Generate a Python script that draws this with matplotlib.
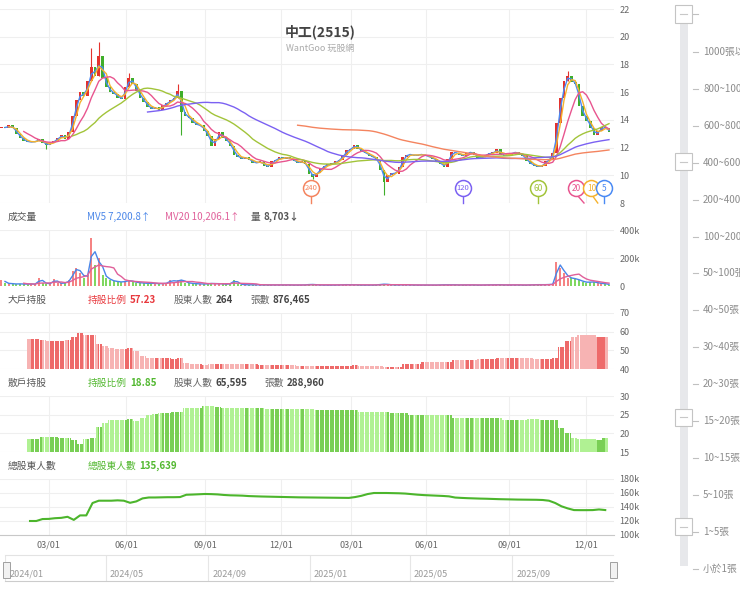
import numpy as np
import pandas as pd
import matplotlib
matplotlib.use('Agg')
import matplotlib.pyplot as plt
import matplotlib.dates as mdates
from matplotlib.patches import Rectangle
from matplotlib.colors import LinearSegmentedColormap
import datetime as dt

plt.rcParams['font.family'] = ['Noto Sans CJK TC', 'DejaVu Sans']

# ---------------- data ----------------
# closing prices, one sample every 3 trading days (2024/01 .. 2025/12)
close = [
    13.5, 13.4, 13.6, 13.4, 13.0, 12.7, 12.5, 12.4, 12.4, 12.45,
    12.6, 12.3, 12.2, 12.3, 12.5, 12.7, 12.9, 12.6, 13.1, 14.3,
    15.4, 16.0, 15.7, 16.8, 17.8, 17.2, 18.6, 17.0, 16.4, 16.0,
    15.9, 15.6, 15.5, 16.4, 17.0, 16.6, 16.1, 15.6, 15.3, 14.9,
    14.8, 14.9, 14.7, 15.1, 15.2, 15.4, 15.6, 16.1, 14.6, 14.3,
    14.1, 13.8, 13.6, 13.6, 13.2, 12.8, 12.1, 12.6, 13.1, 12.7,
    12.5, 12.1, 11.5, 11.3, 11.2, 11.3, 11.1, 10.9, 10.9, 11.0,
    10.7, 10.6, 11.0, 11.1, 11.3, 11.2, 11.3, 11.2, 11.0, 10.9,
    11.0, 10.8, 10.1, 9.9, 10.2, 10.5, 10.7, 10.8, 10.8, 11.0,
    11.1, 11.5, 11.8, 11.9, 12.2, 11.9, 11.7, 11.6, 11.4, 11.3,
    11.1, 10.4, 9.5, 10.0, 10.2, 10.1, 10.6, 11.3, 11.5, 11.5,
    11.4, 11.5, 11.5, 11.4, 11.3, 11.2, 11.0, 10.8, 10.6, 11.2,
    11.7, 11.6, 11.5, 11.4, 11.6, 11.7, 11.5, 11.2, 11.3, 11.5,
    11.6, 11.6, 11.9, 11.5, 11.4, 11.5, 11.6, 11.7, 11.5, 11.4,
    11.0, 10.8, 10.7, 10.6, 10.7, 11.0, 11.2, 11.6, 13.8, 15.6,
    16.8, 17.2, 16.7, 16.6, 15.0, 14.3, 13.9, 13.4, 12.9, 13.2,
    13.5, 13.4, 13.1,
]
first_open = 13.4
wick_high = {24: 19.2, 26: 19.6, 47: 16.6, 34: 17.4, 151: 17.5}
wick_low = {12: 11.9, 48: 12.9, 102: 8.6, 83: 9.7}

# volume (thousand shares), same sampling as close
volume = [
    45, 20, 18, 15, 14, 16, 12, 15, 14, 12,
    55, 25, 15, 18, 50, 20, 18, 25, 40, 105,
    130, 90, 60, 80, 340, 150, 200, 80, 60, 40,
    35, 30, 28, 35, 40, 30, 25, 22, 20, 18,
    20, 18, 16, 18, 20, 45, 30, 40, 45, 25,
    20, 18, 15, 15, 14, 16, 20, 15, 18, 14,
    12, 20, 45, 15, 10, 9, 8, 9, 8, 7,
    8, 7, 8, 7, 9, 7, 8, 7, 6, 7,
    7, 8, 12, 10, 8, 7, 6, 7, 6, 7,
    8, 9, 10, 8, 9, 7, 6, 7, 6, 7,
    8, 12, 14, 10, 8, 7, 8, 9, 8, 7,
    7, 6, 7, 6, 7, 6, 7, 8, 9, 8,
    9, 8, 7, 8, 7, 8, 7, 6, 7, 8,
    8, 9, 10, 8, 7, 8, 7, 8, 7, 6,
    7, 8, 9, 10, 9, 10, 11, 14, 170, 130,
    90, 60, 55, 50, 40, 30, 25, 30, 28, 20,
    18, 15, 9,
]

# weekly shareholder data
big_holder = [
    56.2, 56.2, 55.8, 54.9, 54.9, 54.9, 55.8, 57.0, 59.5, 58.0,
    58.0, 53.6, 52.2, 51.0, 50.9, 50.7, 51.0, 49.5, 47.0, 45.9,
    45.8, 45.8, 45.8, 45.6, 45.9, 43.0, 42.5, 42.6, 42.4, 42.5,
    42.6, 42.5, 42.9, 42.9, 42.8, 42.5, 42.5, 42.4, 42.3, 42.3,
    42.2, 42.3, 42.3, 41.8, 41.8, 41.7, 41.8, 41.8, 41.8, 41.7,
    41.8, 41.8, 42.3, 41.6, 41.6, 41.5, 41.6, 41.3, 41.3, 41.2,
    42.5, 42.5, 42.6, 43.5, 43.5, 43.6, 43.5, 43.5, 44.7, 44.7,
    44.8, 44.7, 45.3, 45.3, 45.4, 46.0, 46.0, 46.1, 46.0, 46.0,
    46.0, 45.5, 45.5, 45.5, 46.0, 52.0, 55.0, 57.0, 58.0, 58.0,
    58.1, 57.2, 57.23,
]
small_holder = [
    18.5, 18.5, 19.1, 19.1, 19.0, 18.8, 18.8, 18.2, 17.2, 18.6,
    18.7, 21.8, 22.9, 23.5, 23.5, 23.6, 23.8, 23.4, 24.0, 24.8,
    25.2, 25.5, 25.5, 25.6, 25.6, 26.8, 26.8, 26.9, 27.2, 27.2,
    27.1, 26.9, 26.9, 26.9, 26.8, 26.8, 26.8, 26.8, 26.6, 26.6,
    26.6, 26.6, 26.6, 26.6, 26.6, 26.6, 26.2, 26.2, 26.2, 26.2,
    26.2, 26.2, 26.2, 25.8, 25.8, 25.8, 25.8, 25.8, 25.5, 25.5,
    25.5, 25.0, 25.0, 25.0, 25.0, 25.0, 25.0, 25.0, 24.2, 24.2,
    24.2, 24.2, 24.2, 24.2, 24.2, 24.2, 23.7, 23.7, 23.7, 23.7,
    23.8, 23.8, 23.5, 23.5, 23.5, 21.3, 20.2, 18.8, 18.4, 18.4,
    18.4, 18.2, 18.85,
]
total_holders = [
    120.0, 120.0, 122.8, 123.0, 124.0, 124.5, 126.0, 121.6, 128.0, 128.0,
    145.7, 149.0, 149.0, 149.0, 149.5, 149.0, 146.0, 148.0, 152.3, 153.6,
    153.6, 153.8, 154.0, 154.0, 154.2, 157.5, 157.8, 158.2, 158.6, 158.4,
    158.0, 157.2, 156.7, 156.5, 156.2, 155.6, 155.3, 155.0, 154.8, 154.6,
    154.4, 154.2, 154.0, 153.8, 153.7, 153.6, 153.5, 153.4, 153.3, 153.2,
    153.1, 153.0, 154.2, 156.0, 158.5, 160.0, 160.0, 160.0, 159.8, 159.6,
    159.2, 158.4, 157.6, 157.0, 156.6, 156.2, 155.8, 155.2, 153.5, 153.0,
    152.6, 152.3, 152.0, 151.8, 151.5, 151.2, 151.0, 150.8, 150.6, 150.5,
    150.4, 150.3, 150.0, 149.0, 145.7, 141.0, 138.0, 135.6, 135.5, 135.5,
    135.6, 136.5, 135.639,
]

ma_windows = {5: 2, 10: 3, 20: 7, 60: 20, 120: 40, 240: 80}   # in samples of 3 days
ma_colors = {5: '#4a8af4', 10: '#f5b22e', 20: '#e8558f', 60: '#a2c43a',
             120: '#7b61f2', 240: '#f4845f'}
badges = [(240, 249, 0), (120, 370, 0), (60, 430, 0), (20, 461, 6), (10, 473, 5), (5, 483, 0)]

tick_days = [39, 101, 164, 225, 281, 341, 407, 469]
tick_labels = ['03/01', '06/01', '09/01', '12/01', '03/01', '06/01', '09/01', '12/01']
nav_months = ['2024/01', '2024/05', '2024/09', '2025/01', '2025/05', '2025/09']
slider_labels = ['1000張以上', '800~1000張', '600~800張', '400~600張', '200~400張',
                 '100~200張', '50~100張', '40~50張', '30~40張', '20~30張', '15~20張',
                 '10~15張', '5~10張', '1~5張', '小於1張']

STEP = 3
WEEK = 5
FIRST_WEEK = 24
X_MAX = 491

# ---------------- figure ----------------
W, H = 740, 592
fig = plt.figure(figsize=(W / 100, H / 100), dpi=100)
fig.patch.set_facecolor('white')


def px_axes(l, t, r, b):
    return fig.add_axes([l / W, 1 - b / H, (r - l) / W, (b - t) / H])


def fx(x):
    return x / W


def fy(y):
    return 1 - y / H


GRID = '#efefef'
TXT = '#666666'


def style(ax, ylim, yticks, ylabels):
    ax.set_xlim(0, X_MAX)
    ax.set_ylim(*ylim)
    ax.set_yticks(yticks)
    ax.set_yticklabels(ylabels)
    ax.yaxis.tick_right()
    ax.tick_params(axis='y', length=0, pad=4, labelsize=6.5, labelcolor=TXT)
    ax.set_xticks(tick_days)
    ax.tick_params(axis='x', length=0, labelbottom=False)
    for s in ax.spines.values():
        s.set_visible(False)
    ax.grid(True, color=GRID, lw=0.8)
    ax.set_axisbelow(True)
    ax.set_facecolor('none')


n = len(close)
xp = 1 + STEP * np.arange(n)
c = np.array(close)
o = np.concatenate([[first_open], c[:-1]])
up = c >= o

# price panel
ax = px_axes(0, 9, 614, 203)
style(ax, (8, 22), np.arange(8, 23, 2), [str(v) for v in range(8, 23, 2)])
cols = np.where(up, '#e5322d', '#3fae2a')
for i, x in enumerate(xp):
    if i in wick_high or i in wick_low:
        hi = wick_high.get(i, max(o[i], c[i]))
        lo = wick_low.get(i, min(o[i], c[i]))
        ax.vlines(x, lo, hi, color=cols[i], lw=0.8, zorder=3)
body = np.where(np.abs(c - o) < 0.06, 0.06, np.abs(c - o))
ax.bar(xp, body, bottom=np.minimum(o, c), width=2.1, color=cols, zorder=3, lw=0)
s = pd.Series(c)
for k, w in ma_windows.items():
    ax.plot(xp, s.rolling(w).mean(), color=ma_colors[k], lw=1.0, zorder=4)
for k, x, dx in badges:
    col = ma_colors[k]
    ax.plot([x + dx * 0.2, x + dx], [8.5, 8.0], color=col, lw=1.0, zorder=5, clip_on=False)
    ax.plot(x, 9.05, 'o', ms=11.5, mfc='white', mec=col, mew=1.1, zorder=6, clip_on=False)
    ax.text(x, 9.05, str(k), color=col, fontsize=6 if k < 100 else 5.5,
            ha='center', va='center', zorder=7)

fig.text(fx(320), fy(32), '中工(2515)', ha='center', va='center', fontsize=10,
         color='#444444', weight='bold')
fig.text(fx(320), fy(48), 'WantGoo 玩股網', ha='center', va='center', fontsize=6.5,
         color='#aaaaaa')

# volume panel
axv = px_axes(0, 230, 614, 286)
style(axv, (0, 400), [0, 200, 400], ['0', '200k', '400k'])
vcols = np.where(up, '#f58383', '#7fd860')
axv.bar(xp, volume, width=1.6, color=vcols, lw=0, zorder=3)
vs = pd.Series(volume, dtype=float)
axv.plot(xp, vs.rolling(2).mean(), color='#4a86e8', lw=1.0, zorder=4)
axv.plot(xp, vs.rolling(7).mean(), color='#e0609a', lw=1.0, zorder=4)

# weekly values drawn as thin daily stripes (each week repeated over its 5 days)
xw = FIRST_WEEK + WEEK * np.arange(len(big_holder))
day_x = (xw[:, None] + np.arange(-2, 3)[None, :]).ravel()
day_up = up[np.clip(((day_x - 1) // STEP).astype(int), 0, n - 1)]


def stripes(vals):
    return np.repeat(np.array(vals, dtype=float), WEEK)


# big holders
axb = px_axes(0, 313, 614, 369)
style(axb, (40, 70), [40, 50, 60, 70], ['40', '50', '60', '70'])
axb.bar(day_x, stripes(big_holder), width=0.82,
        color=np.where(day_up, '#ee6a6a', '#f7b3b3'), lw=0, zorder=3)

# small holders
axs = px_axes(0, 396, 614, 452)
style(axs, (15, 30), [15, 20, 25, 30], ['15', '20', '25', '30'])
axs.bar(day_x, stripes(small_holder), width=0.82,
        color=np.where(day_up, '#79cf55', '#b0f193'), lw=0, zorder=3)

# total holders
axt = px_axes(0, 479, 614, 535)
style(axt, (100, 180), [100, 120, 140, 160, 180], ['100k', '120k', '140k', '160k', '180k'])
axt.plot(xw, total_holders, color='#4cb52c', lw=1.5, zorder=4)
axt.set_xticklabels(tick_labels)
axt.tick_params(axis='x', labelbottom=True, labelsize=6.5, labelcolor=TXT, pad=4)
axt.spines['bottom'].set_visible(True)
axt.spines['bottom'].set_color('#c8c8c8')

# headers
renderer = fig.canvas.get_renderer()


def two_part(x, y, a, b, ca, cb, fs=7):
    t = fig.text(fx(x), fy(y), a, color=ca, fontsize=fs, va='center')
    bb = t.get_window_extent(renderer=renderer)
    fig.text((bb.x1 + 3) / W, fy(y), b, color=cb, fontsize=fs, va='center', weight='bold')


HDR = '#555555'
fig.text(fx(8), fy(217), '成交量', color=HDR, fontsize=7, va='center')
fig.text(fx(87), fy(217), 'MV5 7,200.8↑', color='#4a86e8', fontsize=7, va='center')
fig.text(fx(165), fy(217), 'MV20 10,206.1↑', color='#e0609a', fontsize=7, va='center')
two_part(251, 217, '量', '8,703↓', HDR, '#555555')

fig.text(fx(8), fy(300), '大戶持股', color=HDR, fontsize=7, va='center')
two_part(88, 300, '持股比例', '57.23', '#e8383d', '#e8383d')
two_part(174, 300, '股東人數', '264', TXT, '#444444')
two_part(250, 300, '張數', '876,465', TXT, '#444444')

fig.text(fx(8), fy(383), '散戶持股', color=HDR, fontsize=7, va='center')
two_part(88, 383, '持股比例', '18.85', '#52b830', '#52b830')
two_part(174, 383, '股東人數', '65,595', TXT, '#444444')
two_part(264, 383, '張數', '288,960', TXT, '#444444')

fig.text(fx(8), fy(466), '總股東人數', color=HDR, fontsize=7, va='center')
two_part(88, 466, '總股東人數', '135,639', '#52b830', '#52b830')

# navigator
axn = px_axes(5, 555, 613, 581)
d0, d1 = dt.date(2024, 1, 1), dt.date(2025, 12, 31)
axn.set_xlim(mdates.date2num(d0), mdates.date2num(d1))
axn.set_ylim(0, 1)
axn.set_xticks([])
axn.set_yticks([])
for sname, s_ in axn.spines.items():
    s_.set_visible(sname in ('top', 'bottom'))
axn.spines['top'].set_color('#e3e3e3')
axn.spines['bottom'].set_color('#cccccc')
for lab in nav_months:
    yy, mm = map(int, lab.split('/'))
    xd = mdates.date2num(dt.date(yy, mm, 1))
    axn.axvline(xd, color='#e6e6e6', lw=0.8)
    axn.annotate(lab, (xd, 0.27), xytext=(3, 0), textcoords='offset points',
                 fontsize=6.5, color='#999999', va='center', ha='left')
for hx in (6, 613):
    fig.patches.append(Rectangle((fx(hx - 3.5), fy(578)), 7 / W, 16 / H,
                                 transform=fig.transFigure, facecolor='#f2f2f2',
                                 edgecolor='#a0a0a0', lw=0.7, zorder=5))
    for gx in (-1, 1):
        fig.lines.append(plt.Line2D([fx(hx + gx), fx(hx + gx)], [fy(566), fy(574)],
                                    transform=fig.transFigure, color='#999999', lw=0.6))

# right slider legend
fig.patches.append(Rectangle((fx(679.5), fy(566)), 8 / W, 556 / H, transform=fig.transFigure,
                             facecolor='#e7e8eb', edgecolor='none'))
grad = np.linspace(0, 1, 100).reshape(-1, 1)
axr = px_axes(679.5, 22, 687.5, 156)
axr.imshow(grad, aspect='auto', cmap=LinearSegmentedColormap.from_list('r', ['#f0343c', '#f9a6a6']))
axr.axis('off')
axg = px_axes(679.5, 425, 687.5, 524)
axg.imshow(grad, aspect='auto', cmap=LinearSegmentedColormap.from_list('g', ['#4cb52c', '#aee88c']))
axg.axis('off')
label_y = [52 + 36.9 * i for i in range(len(slider_labels))]
for yy, lab in zip(label_y, slider_labels):
    fig.lines.append(plt.Line2D([fx(693), fx(698)], [fy(yy), fy(yy)], transform=fig.transFigure,
                                color='#c0c0c0', lw=0.8))
    fig.text(fx(703), fy(yy), lab, fontsize=7, color='#8c8c8c', va='center')
fig.lines.append(plt.Line2D([fx(693), fx(698)], [fy(14), fy(14)], transform=fig.transFigure,
                            color='#c0c0c0', lw=0.8))
for hy in (14, label_y[3] - 1, label_y[10] - 4, label_y[13] - 5):
    fig.patches.append(Rectangle((fx(675), fy(hy + 8.5)), 17 / W, 17 / H,
                                 transform=fig.transFigure, facecolor='white',
                                 edgecolor='#c4c4c4', lw=0.8, zorder=6))
    fig.lines.append(plt.Line2D([fx(680), fx(687)], [fy(hy), fy(hy)], transform=fig.transFigure,
                                color='#c8c8c8', lw=0.8, zorder=7))

fig.savefig('out.png', dpi=100)
